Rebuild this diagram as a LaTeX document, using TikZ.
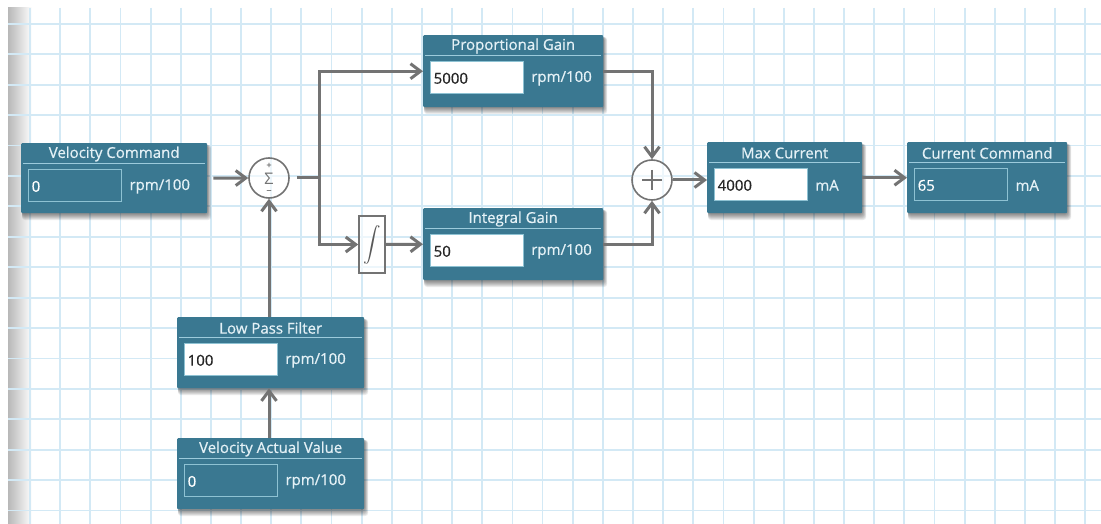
\documentclass[tikz,border=0pt]{standalone}
\usepackage{fontspec}
\usepackage{graphicx}
\setmainfont{Open Sans}
\newfontfamily\blkfont{Open Sans}[FakeBold=0.6]
\usetikzlibrary{arrows.meta,calc}
\definecolor{blk}{HTML}{3A7891}
\definecolor{ttl}{HTML}{E4F1F6}
\definecolor{sepc}{HTML}{9CCBDC}
\definecolor{inbd}{HTML}{8EC2D3}
\definecolor{gridc}{HTML}{D3E9F5}
\definecolor{arrc}{HTML}{737373}
\tikzset{
  gridl/.style={draw=gridc, line width=1.8pt},
  blockbox/.style={draw=none, fill=blk, inner sep=0pt, rounded corners=1pt},
  titletext/.style={text=ttl, font=\blkfont\fontsize{15}{16}\selectfont, inner sep=0pt},
  sepline/.style={draw=sepc, line width=1.2pt},
  inwhite/.style={fill=white, draw=inbd, line width=0.6pt, minimum width=93pt, minimum height=32pt, inner sep=0pt},
  indark/.style={fill=blk, draw=inbd, line width=0.8pt, minimum width=93pt, minimum height=32pt, inner sep=0pt},
  inwhite val/.style={text=black!85},
  indark val/.style={text=white},
  valtext/.style={font=\blkfont\fontsize{15}{16}\selectfont, inner sep=0pt},
  unittext/.style={text=ttl, font=\blkfont\fontsize{15}{16}\selectfont, inner sep=0pt},
  arr/.style={draw=arrc, line width=3pt, -{Straight Barb[length=10pt,width=15pt,line width=3pt]}},
  plainline/.style={draw=arrc, line width=3pt},
  opnode/.style={circle, draw=arrc, line width=1.6pt, fill=white, fill opacity=0.6, text opacity=1, minimum size=40pt, inner sep=0pt},
  intbox/.style={draw=arrc, line width=1.6pt, fill=white, fill opacity=0.6, text opacity=1, minimum width=26pt, minimum height=57pt, inner sep=0pt}
}
% #1 name, #2 x, #3 y, #4 w, #5 h, #6 title, #7 value, #8 unit, #9 input style
\newcommand\pidblock[9]{%
  \foreach \o in {1,2,...,7}{
    \fill[black, opacity=0.08, rounded corners=3pt] (#2+1,#3+2) rectangle (#2+#4+0.6*\o,#3+#5+\o);
  }
  \node[blockbox, minimum width=#4pt, minimum height=#5pt, anchor=north west] (#1) at (#2,#3) {};
  \node[titletext] (#1-t) at ($(#1.north)+(0,11)$) {#6};
  \draw[sepline] ($(#1.north west)+(2,20.5)$) -- ($(#1.north east)+(-2,20.5)$);
  \node[#9, anchor=north west] (#1-in) at ($(#1.north west)+(6.5,26)$) {};
  \node[valtext, #9 val, anchor=west] (#1-v) at ($(#1-in.west)+(4,1)$) {#7};
  \node[unittext, anchor=west] (#1-u) at ($(#1-in.east)+(8,1)$) {#8};
}
\begin{document}
\begin{tikzpicture}[x=1pt,y=-1pt]
\useasboundingbox (0,0) rectangle (1101,524);
\fill[white] (0,0) rectangle (1101,524);
\shade[left color=black!28, right color=white] (8,8) rectangle (32,524);
\foreach \i in {0,...,35} \draw[gridl] ({30+\i*30.15},8) -- ({30+\i*30.15},524);
\foreach \j in {0,...,16} \draw[gridl] (8,{24+\j*30.4}) -- (1101,{24+\j*30.4});

\pidblock{vc}{21}{143}{186}{70}{Velocity Command}{0}{rpm/100}{indark}
\pidblock{pg}{423}{35}{180}{72}{Proportional Gain}{5000}{rpm/100}{inwhite}
\pidblock{ig}{423}{208}{180}{72}{Integral Gain}{50}{rpm/100}{inwhite}
\pidblock{mc}{707}{142}{155}{71}{Max Current}{4000}{mA}{inwhite}
\pidblock{cc}{907}{142}{160}{71}{Current Command}{65}{mA}{indark}
\pidblock{lpf}{177}{317}{187}{71}{Low Pass Filter}{100}{rpm/100}{inwhite}
\pidblock{vav}{177}{438}{187}{71}{Velocity Actual Value}{0}{rpm/100}{indark}

% summing junction
\node[opnode] (sum) at (269,178) {};
\node[text=arrc, font=\fontsize{16}{16}\selectfont, inner sep=0pt] (sumS) at ($(sum)+(0,0.5)$) {Σ};
\node[text=arrc, font=\blkfont\fontsize{9}{9}\selectfont, inner sep=0pt] (sumP) at ($(sum)+(0,-12.5)$) {+};
\node[text=arrc, font=\blkfont\fontsize{9}{9}\selectfont, inner sep=0pt] (sumM) at ($(sum)+(0,14)$) {−};

% adder
\node[opnode] (plus) at (652,180) {};
\draw[draw=arrc, line width=1.8pt] ($(plus)+(-10,0)$) -- ($(plus)+(10,0)$) ($(plus)+(0,-10)$) -- ($(plus)+(0,10)$);

% integrator
\node[intbox] (int) at (372,244.5) {};
\node[text=black!65, inner sep=0pt] (intS) at (int) {\scalebox{1.75}{$\displaystyle\int$}};

\coordinate (br) at (319,178);

% connectors
\draw[arr, shorten <=6pt] (vc.east) -- (sum.west);
\draw[arr] (lpf.north -| sum.south) -- (sum.south);
\draw[arr] (vav.north -| sum.south) -- (lpf.south -| sum.south);
\draw[plainline, shorten <=7pt] (sum.east) -- (br);
\draw[arr] (br) |- (pg.west);
\draw[arr] (br) |- (int.west);
\draw[arr] (int.east) -- (ig.west);
\draw[arr] (pg.east) -| (plus.north);
\draw[arr] (ig.east) -| (plus.south);
\draw[arr] (plus.east) -- (plus.east -| mc.west);
\draw[arr] (mc.east) -- (mc.east -| cc.west);
\end{tikzpicture}
\end{document}
